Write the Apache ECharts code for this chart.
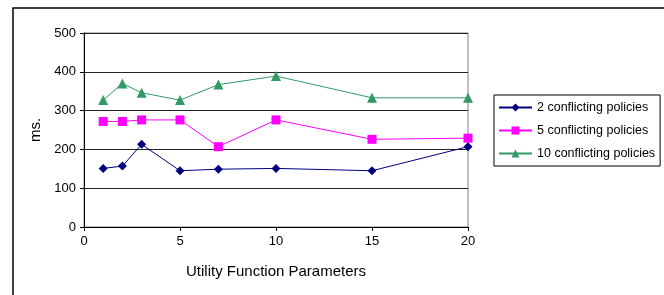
<!DOCTYPE html>
<html>
<head>
<meta charset="utf-8">
<script src="https://cdn.jsdelivr.net/npm/echarts@6/dist/echarts.min.js"></script>
<style>
  html, body { margin: 0; padding: 0; background: #fff; }
  #main { width: 664px; height: 295px; }
</style>
</head>
<body>
<div id="main"></div>
<script>
var xValues = [1, 2, 3, 5, 7, 10, 15, 20];
var twoPolicies = [151, 157, 213, 145, 149, 151, 145, 207];
var fivePolicies = [272, 272, 276, 276, 207, 276, 226, 229];
var tenPolicies = [327, 370, 346, 327, 367, 389, 333, 333];
var seriesNames = ['2 conflicting policies', '5 conflicting policies', '10 conflicting policies'];

function pairs(ys) {
  return xValues.map(function (x, i) { return [x, ys[i]]; });
}

var chart = echarts.init(document.getElementById('main'), null, { renderer: 'canvas' });

var font = 'Liberation Sans, Arial, sans-serif';

var option = {
  animation: false,
  backgroundColor: '#fff',
  textStyle: { fontFamily: font },
  graphic: [{
    type: 'rect',
    shape: { x: 13, y: 8, width: 660, height: 300 },
    style: { fill: 'none', stroke: '#000', lineWidth: 1.5 },
    silent: true
  }],
  grid: {
    left: 84, right: 196, top: 33, bottom: 68,
    show: true, borderColor: '#808080', borderWidth: 1, backgroundColor: 'transparent'
  },
  legend: {
    orient: 'vertical',
    left: 494, top: 95,
    padding: [6, 5, 6, 4],
    borderColor: '#000', borderWidth: 1,
    itemWidth: 33, itemHeight: 10, itemGap: 10,
    textStyle: { fontFamily: font, fontSize: 12.5, color: '#000' },
    data: seriesNames
  },
  xAxis: {
    type: 'value', min: 0, max: 20, interval: 5,
    name: 'Utility Function Parameters', nameLocation: 'middle', nameGap: 37,
    nameTextStyle: { fontFamily: font, fontSize: 15, color: '#000' },
    axisLine: { lineStyle: { color: '#000', width: 1 } },
    axisTick: { show: true, length: 4, lineStyle: { color: '#000' } },
    axisLabel: { fontFamily: font, fontSize: 13, color: '#000', margin: 8 },
    splitLine: { show: false }
  },
  yAxis: {
    type: 'value', min: 0, max: 500, interval: 100,
    name: 'ms.', nameLocation: 'middle', nameGap: 40, nameRotate: 90,
    nameTextStyle: { fontFamily: font, fontSize: 15, color: '#000' },
    axisLine: { show: true, lineStyle: { color: '#000', width: 1 } },
    axisTick: { show: true, length: 4, lineStyle: { color: '#000' } },
    axisLabel: { fontFamily: font, fontSize: 13, color: '#000', margin: 8 },
    splitLine: { show: true, lineStyle: { color: '#222', width: 1 } }
  },
  series: [
    {
      name: seriesNames[0], type: 'line', data: pairs(twoPolicies),
      symbol: 'diamond', symbolSize: 9,
      itemStyle: { color: '#000080' }, lineStyle: { color: '#000080', width: 1 }
    },
    {
      name: seriesNames[1], type: 'line', data: pairs(fivePolicies),
      symbol: 'rect', symbolSize: 9,
      itemStyle: { color: '#FF00FF' }, lineStyle: { color: '#FF00FF', width: 1 }
    },
    {
      name: seriesNames[2], type: 'line', data: pairs(tenPolicies),
      symbol: 'triangle', symbolSize: 10,
      itemStyle: { color: '#339966' }, lineStyle: { color: '#339966', width: 1 }
    }
  ]
};

chart.setOption(option);
</script>
</body>
</html>
